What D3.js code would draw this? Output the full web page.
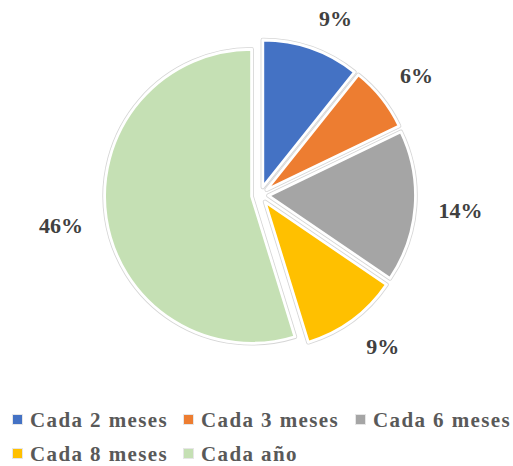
<!DOCTYPE html>
<html>
<head>
<meta charset="utf-8">
<script src="https://cdn.jsdelivr.net/npm/d3@7"></script>
<style>
  html, body { margin: 0; padding: 0; background: #fff; }
  svg text { font-family: "Liberation Serif", "Times New Roman", serif; font-weight: bold; }
</style>
</head>
<body>
<div id="chart"></div>
<script>
const categories = ["Cada 2 meses", "Cada 3 meses", "Cada 6 meses", "Cada 8 meses", "Cada año"];
const values = [9, 6, 14, 9, 46];
const colors = ["#4472C4", "#ED7D31", "#A5A5A5", "#FFC000", "#C5E0B4"];

const width = 513, height = 466;
const cx = 260, cy = 195;
const radius = 147;
const explode = 8.5;
const labelR = 179;

const svg = d3.select("#chart").append("svg")
  .attr("width", width)
  .attr("height", height);

const pie = d3.pie().sort(null).value(d => d);
const arcs = pie(values);
const arc = d3.arc().innerRadius(0).outerRadius(radius);

const g = svg.append("g").attr("transform", `translate(${cx},${cy})`);

const slices = g.selectAll("g.slice")
  .data(arcs)
  .enter()
  .append("g")
  .attr("class", "slice")
  .attr("transform", d => {
    const a = (d.startAngle + d.endAngle) / 2;
    return `translate(${explode * Math.sin(a)},${-explode * Math.cos(a)})`;
  });

// faint grey outline under the white border
slices.append("path")
  .attr("d", arc)
  .attr("fill", "none")
  .attr("stroke", "#d6d6d6")
  .attr("stroke-width", 4.5)
  .attr("stroke-linejoin", "round");

slices.append("path")
  .attr("d", arc)
  .attr("fill", (d, i) => colors[i])
  .attr("stroke", "#fff")
  .attr("stroke-width", 2.8)
  .attr("stroke-linejoin", "round");

// percentage labels, outside end
const clamp = v => Math.max(-1, Math.min(1, v));
g.selectAll("text.pct")
  .data(arcs)
  .enter()
  .append("text")
  .attr("class", "pct")
  .attr("text-anchor", "middle")
  .attr("font-size", 22)
  .attr("fill", "#404040")
  .text(d => d.data + "%")
  .each(function (d) {
    const a = (d.startAngle + d.endAngle) / 2;
    const bb = this.getBBox();
    const px = labelR * Math.sin(a), py = -labelR * Math.cos(a);
    const x = px + bb.width / 2 * clamp(Math.sin(a) * 3);
    const y = py - 7.5 * clamp(Math.cos(a) * 3);
    d3.select(this).attr("x", x).attr("y", y + 7.5);
  });

// legend
const legendX = [12, 183, 355, 12, 183];
const legendY = [427, 427, 427, 461, 461];

const legend = svg.selectAll("g.legend")
  .data(categories)
  .enter()
  .append("g")
  .attr("class", "legend")
  .attr("transform", (d, i) => `translate(${legendX[i]},${legendY[i]})`);

legend.append("rect")
  .attr("x", 0.5)
  .attr("y", -12.5)
  .attr("width", 10)
  .attr("height", 10)
  .attr("fill", (d, i) => colors[i])
  .attr("stroke", "#e6e6e6")
  .attr("stroke-width", 1);

legend.append("text")
  .attr("x", 18)
  .attr("y", 0)
  .attr("font-size", 21)
  .attr("letter-spacing", 1.4)
  .attr("fill", "#595959")
  .text(d => d);
</script>
</body>
</html>
